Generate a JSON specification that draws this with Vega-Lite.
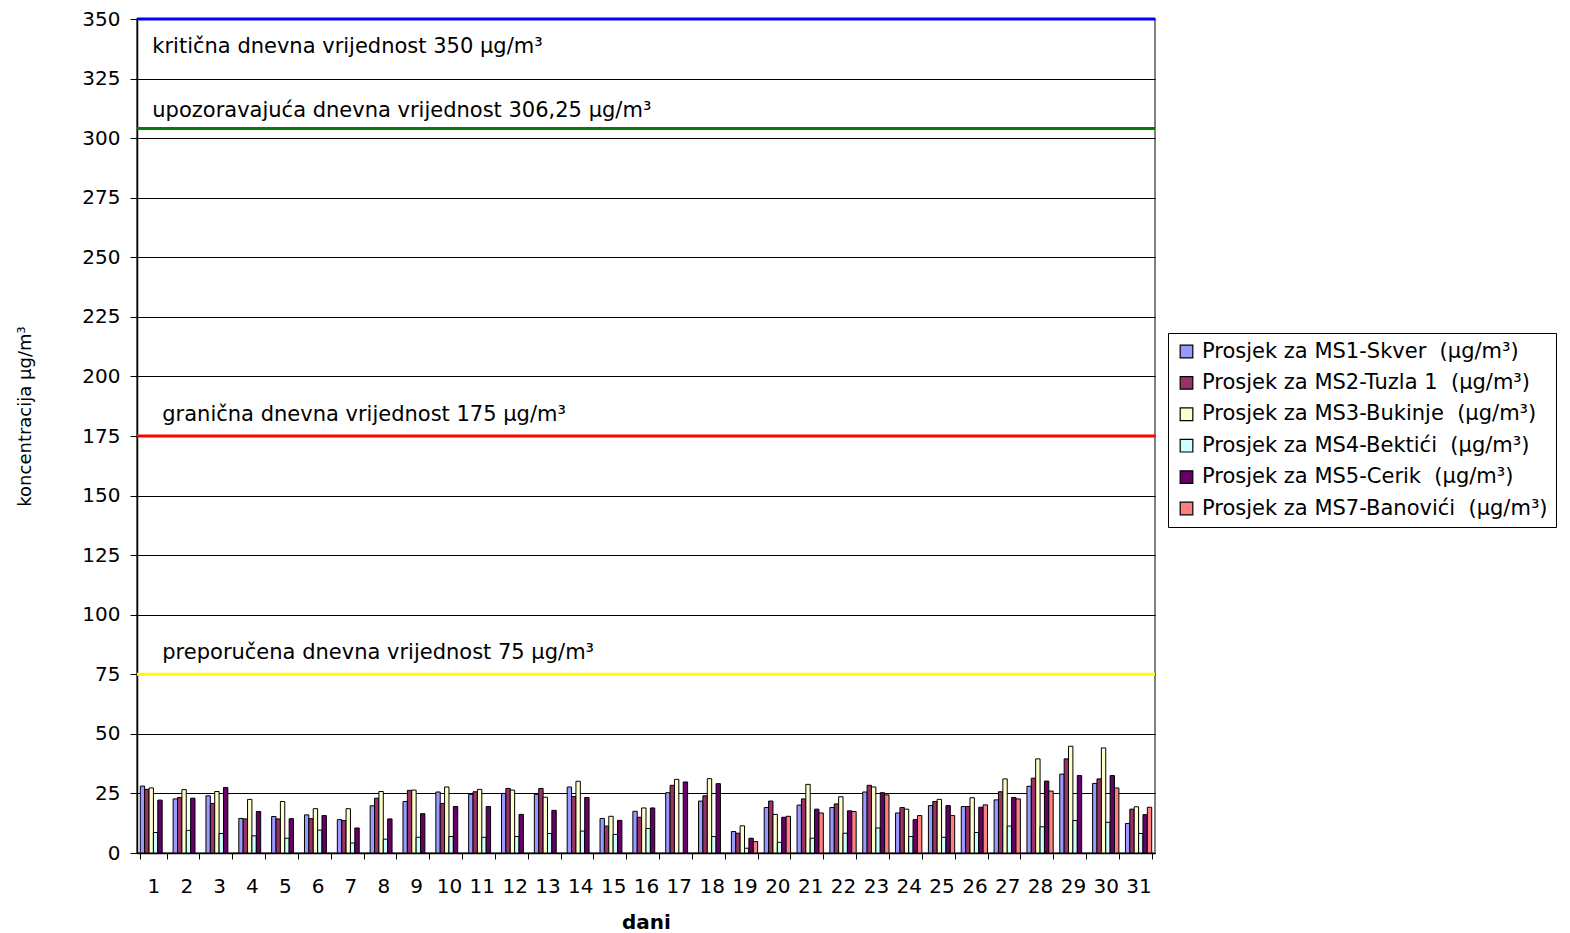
{
  "$schema": "https://vega.github.io/schema/vega-lite/v6.json",
  "width": 1018,
  "height": 834,
  "autosize": {"type": "none"},
  "padding": {"left": 137, "top": 19, "right": 415, "bottom": 80},
  "background": "white",
  "config": {
    "font": "DejaVu Sans",
    "view": {"stroke": "#808080", "strokeWidth": 2},
    "axis": {"labelColor": "black", "titleColor": "black", "labelFont": "DejaVu Sans", "titleFont": "DejaVu Sans"},
    "legend": {"labelFont": "DejaVu Sans"}
  },
  "datasets": {
    "refs": [
      {"v": 350, "t": "kritična dnevna vrijednost 350 µg/m³"},
      {"v": 304, "t": "upozoravajuća dnevna vrijednost 306,25 µg/m³"},
      {"v": 175, "t": "granična dnevna vrijednost 175 µg/m³"},
      {"v": 75, "t": "preporučena dnevna vrijednost 75 µg/m³"}
    ]
  },
  "layer": [
    {
      "data": {"values": [
        {"d": 1, "MS1": 28.1, "MS2": 26.7, "MS3": 27.3, "MS4": 8.6, "MS5": 22.2},
        {"d": 2, "MS1": 22.7, "MS2": 23.3, "MS3": 26.6, "MS4": 9.5, "MS5": 23.0},
        {"d": 3, "MS1": 24.0, "MS2": 20.8, "MS3": 25.8, "MS4": 8.2, "MS5": 27.5},
        {"d": 4, "MS1": 14.5, "MS2": 14.3, "MS3": 22.5, "MS4": 7.2, "MS5": 17.4},
        {"d": 5, "MS1": 15.3, "MS2": 14.3, "MS3": 21.6, "MS4": 6.2, "MS5": 14.4},
        {"d": 6, "MS1": 16.0, "MS2": 14.4, "MS3": 18.6, "MS4": 9.6, "MS5": 15.7},
        {"d": 7, "MS1": 14.0, "MS2": 13.6, "MS3": 18.6, "MS4": 4.2, "MS5": 10.5},
        {"d": 8, "MS1": 19.8, "MS2": 23.0, "MS3": 25.8, "MS4": 5.8, "MS5": 14.3},
        {"d": 9, "MS1": 21.6, "MS2": 26.3, "MS3": 26.4, "MS4": 6.6, "MS5": 16.5},
        {"d": 10, "MS1": 25.6, "MS2": 20.8, "MS3": 27.7, "MS4": 6.9, "MS5": 19.5},
        {"d": 11, "MS1": 24.6, "MS2": 25.7, "MS3": 26.7, "MS4": 6.6, "MS5": 19.5},
        {"d": 12, "MS1": 25.0, "MS2": 27.1, "MS3": 26.4, "MS4": 6.9, "MS5": 16.2},
        {"d": 13, "MS1": 24.6, "MS2": 27.1, "MS3": 23.4, "MS4": 8.2, "MS5": 17.9},
        {"d": 14, "MS1": 27.7, "MS2": 23.7, "MS3": 30.1, "MS4": 9.2, "MS5": 23.3},
        {"d": 15, "MS1": 14.5, "MS2": 11.3, "MS3": 15.4, "MS4": 7.8, "MS5": 13.7},
        {"d": 16, "MS1": 17.5, "MS2": 15.0, "MS3": 18.9, "MS4": 10.3, "MS5": 18.9},
        {"d": 17, "MS1": 25.3, "MS2": 28.4, "MS3": 30.9, "MS5": 29.8},
        {"d": 18, "MS1": 21.8, "MS2": 24.0, "MS3": 31.2, "MS4": 6.9, "MS5": 29.1},
        {"d": 19, "MS1": 9.0, "MS2": 8.3, "MS3": 11.4, "MS4": 2.0, "MS5": 6.2, "MS7": 4.8},
        {"d": 20, "MS1": 19.1, "MS2": 21.8, "MS3": 16.2, "MS4": 4.5, "MS5": 15.0, "MS7": 15.4},
        {"d": 21, "MS1": 20.1, "MS2": 22.7, "MS3": 28.8, "MS4": 6.2, "MS5": 18.4, "MS7": 16.8},
        {"d": 22, "MS1": 19.1, "MS2": 20.6, "MS3": 23.6, "MS4": 8.3, "MS5": 17.7, "MS7": 17.4},
        {"d": 23, "MS1": 25.6, "MS2": 28.4, "MS3": 27.7, "MS4": 10.5, "MS5": 25.3, "MS7": 24.4},
        {"d": 24, "MS1": 16.8, "MS2": 19.1, "MS3": 18.4, "MS4": 6.9, "MS5": 14.0, "MS7": 15.7},
        {"d": 25, "MS1": 19.9, "MS2": 21.6, "MS3": 22.5, "MS4": 6.6, "MS5": 19.9, "MS7": 15.7},
        {"d": 26, "MS1": 19.5, "MS2": 19.5, "MS3": 23.2, "MS4": 8.6, "MS5": 19.2, "MS7": 20.2},
        {"d": 27, "MS1": 22.3, "MS2": 25.7, "MS3": 31.1, "MS4": 11.3, "MS5": 23.3, "MS7": 22.7},
        {"d": 28, "MS1": 28.0, "MS2": 31.4, "MS3": 39.5, "MS4": 11.0, "MS5": 30.2, "MS7": 26.0},
        {"d": 29, "MS1": 33.1, "MS2": 39.5, "MS3": 44.8, "MS4": 13.6, "MS5": 32.5},
        {"d": 30, "MS1": 29.2, "MS2": 31.1, "MS3": 44.1, "MS4": 12.9, "MS5": 32.5, "MS7": 27.3},
        {"d": 31, "MS1": 12.4, "MS2": 18.4, "MS3": 19.4, "MS4": 8.2, "MS5": 16.1, "MS7": 19.2}
      ]},
      "transform": [{"fold": ["MS1", "MS2", "MS3", "MS4", "MS5", "MS7"], "as": ["s", "v"]}],
      "mark": {"type": "bar", "stroke": "black", "strokeWidth": 1},
      "encoding": {
        "x": {
          "field": "d", "type": "ordinal",
          "scale": {"paddingInner": 0.2, "paddingOuter": 0.1},
          "axis": {
            "title": "dani", "titleFontSize": 20, "titleFontWeight": "bold", "titlePadding": 16,
            "labelFontSize": 20, "labelAngle": 0, "labelPadding": 17,
            "tickBand": "extent", "tickSize": 6, "tickColor": "black",
            "domainColor": "black", "domainWidth": 1.5, "grid": false
          }
        },
        "xOffset": {"field": "s", "type": "nominal", "scale": {"domain": ["MS1", "MS2", "MS3", "MS4", "MS5", "MS7"], "paddingInner": 0}},
        "y": {
          "field": "v", "type": "quantitative",
          "scale": {"domain": [0, 350], "nice": false},
          "axis": {
            "title": "koncentracija µg/m³", "titleFontSize": 18, "titleFontWeight": "normal", "titlePadding": 47, "titleY": 397,
            "values": [0, 25, 50, 75, 100, 125, 150, 175, 200, 225, 250, 275, 300, 325, 350],
            "labelFontSize": 20, "labelPadding": 10, "tickSize": 7, "tickColor": "black",
            "domainColor": "black", "domainWidth": 1.5,
            "grid": true, "gridColor": "black", "gridWidth": 1, "gridOpacity": 1
          }
        },
        "fill": {
          "field": "s", "type": "nominal",
          "scale": {"domain": ["MS1", "MS2", "MS3", "MS4", "MS5", "MS7"], "range": ["#9999FF", "#993366", "#FFFFCC", "#CCFFFF", "#660066", "#FF8080"]},
          "legend": {
            "title": null, "orient": "none", "legendX": 1031, "legendY": 314,
            "labelExpr": "'Prosjek za ' + (datum.label == 'MS1' ? 'MS1-Skver' : datum.label == 'MS2' ? 'MS2-Tuzla 1' : datum.label == 'MS3' ? 'MS3-Bukinje' : datum.label == 'MS4' ? 'MS4-Bektići' : datum.label == 'MS5' ? 'MS5-Cerik' : 'MS7-Banovići') + ' \u00a0(µg/m³)'",
            "labelFontSize": 21, "labelColor": "black", "labelLimit": 600, "labelOffset": 5,
            "symbolType": "square", "symbolSize": 160, "symbolStrokeColor": "black", "symbolStrokeWidth": 1.2, "symbolOpacity": 1,
            "rowPadding": 9.4, "padding": 8, "strokeColor": "black", "fillColor": "white"
          }
        }
      }
    },
    {
      "data": {"name": "refs"},
      "mark": {"type": "rule", "strokeWidth": 3},
      "encoding": {
        "y": {"field": "v", "type": "quantitative"},
        "stroke": {"field": "v", "type": "nominal", "scale": {"domain": [350, 304, 175, 75], "range": ["#0000FF", "#008000", "#FF0000", "#FFFF00"]}, "legend": null}
      }
    },
    {
      "data": {"name": "refs"},
      "transform": [{"filter": "datum.v == 350"}],
      "mark": {"type": "text", "align": "left", "baseline": "middle", "fontSize": 21, "color": "black", "dx": 12, "dy": 28},
      "encoding": {
        "x": {"datum": 1, "type": "ordinal", "bandPosition": 0},
        "y": {"field": "v", "type": "quantitative"},
        "text": {"field": "t"}
      }
    },
    {
      "data": {"name": "refs"},
      "transform": [{"filter": "datum.v == 304"}],
      "mark": {"type": "text", "align": "left", "baseline": "middle", "fontSize": 21, "color": "black", "dx": 12, "dy": -18},
      "encoding": {
        "x": {"datum": 1, "type": "ordinal", "bandPosition": 0},
        "y": {"field": "v", "type": "quantitative"},
        "text": {"field": "t"}
      }
    },
    {
      "data": {"name": "refs"},
      "transform": [{"filter": "datum.v == 175 || datum.v == 75"}],
      "mark": {"type": "text", "align": "left", "baseline": "middle", "fontSize": 21, "color": "black", "dx": 22, "dy": -21},
      "encoding": {
        "x": {"datum": 1, "type": "ordinal", "bandPosition": 0},
        "y": {"field": "v", "type": "quantitative"},
        "text": {"field": "t"}
      }
    }
  ]
}
